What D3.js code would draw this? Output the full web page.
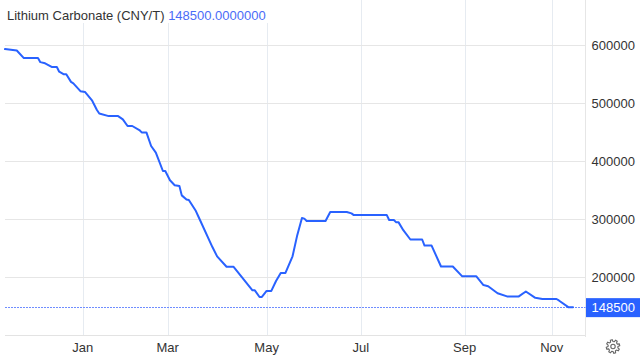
<!DOCTYPE html>
<html>
<head>
<meta charset="utf-8">
<script src="https://cdn.jsdelivr.net/npm/d3@7"></script>
<style>
  html, body { margin: 0; padding: 0; background: #fff; }
  svg { display: block; font-family: "Liberation Sans", Arial, sans-serif; }
</style>
</head>
<body>
<svg id="chart" width="640" height="357"></svg>
<script>
// ---- Data ----
const titleText = "Lithium Carbonate (CNY/T)";
const lastValueText = "148500.0000000";
const lastValue = 148500;

const dates = [
  "2022-11-16","2022-11-23","2022-11-28","2022-12-06","2022-12-07","2022-12-09","2022-12-14","2022-12-16",
  "2022-12-19","2022-12-21","2022-12-22","2022-12-26","2022-12-27","2022-12-30","2023-01-04","2023-01-09",
  "2023-01-11","2023-01-12","2023-01-18","2023-01-31","2023-02-02","2023-02-06","2023-02-08","2023-02-13",
  "2023-02-14","2023-02-16","2023-02-20","2023-02-22","2023-02-27","2023-02-28","2023-03-02","2023-03-06",
  "2023-03-08","2023-03-09","2023-03-13","2023-03-14","2023-03-17","2023-03-20","2023-03-28","2023-03-30",
  "2023-04-06","2023-04-11","2023-04-21","2023-04-24","2023-04-26","2023-04-27","2023-05-04","2023-05-08",
  "2023-05-10","2023-05-12","2023-05-16","2023-05-19","2023-05-23","2023-05-25","2023-05-26","2023-05-29",
  "2023-06-08","2023-06-12","2023-06-21","2023-06-27","2023-06-28","2023-07-18","2023-07-19","2023-07-21",
  "2023-07-24","2023-07-25","2023-07-27","2023-08-01","2023-08-08","2023-08-09","2023-08-14","2023-08-18",
  "2023-08-25","2023-08-31","2023-09-08","2023-09-13","2023-09-15","2023-09-21","2023-09-27","2023-10-12",
  "2023-10-17","2023-10-23","2023-10-26","2023-11-03","2023-11-06","2023-11-10","2023-11-14"
];
const prices = [
  593000,590500,577500,577500,570500,568500,562000,562000,
  554000,549500,549500,536500,534000,520500,519000,504000,
  488000,482000,477500,477500,472000,460500,460500,453500,
  449500,449500,426000,414500,383000,383000,367000,358500,
  357000,341000,334000,333000,314000,305000,252000,236000,
  218000,218000,177500,177500,166000,166000,176500,176500,
  193500,207500,207500,236000,272500,302000,301000,297000,
  297000,312500,312500,310000,307000,307000,298500,298500,
  294500,294500,281000,265000,265000,254500,254500,218500,
  218500,201500,201500,186500,184500,172500,167000,167000,
  175500,164500,162500,162500,160000,148500,148500
];

// trading calendar (weekdays minus exchange holidays)
const calStart = "2022-11-16";
const calEnd = "2023-11-14";
const holidays = [
  "2023-01-02","2023-01-23","2023-01-24","2023-01-25","2023-01-26","2023-01-27",
  "2023-04-05","2023-05-01","2023-05-02","2023-05-03","2023-06-22","2023-06-23",
  "2023-09-29","2023-10-02","2023-10-03","2023-10-04","2023-10-05","2023-10-06"
];
const monthTicks = ["2023-01-01","2023-03-01","2023-05-01","2023-07-01","2023-09-01","2023-11-01"];
const monthLabels = ["Jan","Mar","May","Jul","Sep","Nov"];
const yTicks = [200000, 300000, 400000, 500000, 600000];

// ---- Build trading-day index ----
const fmt = d3.utcFormat("%Y-%m-%d");
const parse = d3.utcParse("%Y-%m-%d");
const holidaySet = new Set(holidays);
const tradingDays = d3.utcDays(parse(calStart), d3.utcDay.offset(parse(calEnd), 1))
  .filter(d => d.getUTCDay() !== 0 && d.getUTCDay() !== 6 && !holidaySet.has(fmt(d)));
const tradingStr = tradingDays.map(fmt);
function dayIndex(s) {
  const i = d3.bisectLeft(tradingStr, s);
  return Math.min(i, tradingStr.length - 1);
}
const series = dates.map((d, i) => ({ i: dayIndex(d), v: prices[i] }));

// ---- Layout ----
const svg = d3.select("#chart");
const plotLeft = 5, plotRight = 585.5, plotTop = 0, plotBottom = 335;
const x = d3.scaleLinear().domain([0, tradingStr.length - 1]).range([5, 573]);
const y = d3.scaleLinear().domain([100000, 600000]).range([335.3, 45]);

svg.append("rect").attr("width", 640).attr("height", 357).attr("fill", "#fff");

// vertical grid lines (months)
svg.append("g").selectAll("line").data(monthTicks).join("line")
  .attr("x1", d => Math.round(x(dayIndex(d))) + 0.5)
  .attr("x2", d => Math.round(x(dayIndex(d))) + 0.5)
  .attr("y1", plotTop).attr("y2", plotBottom)
  .attr("stroke", "#e6ebf1").attr("stroke-width", 1);

// horizontal grid lines
svg.append("g").selectAll("line").data(yTicks).join("line")
  .attr("x1", plotLeft).attr("x2", plotRight)
  .attr("y1", d => Math.round(y(d)) + 0.5).attr("y2", d => Math.round(y(d)) + 0.5)
  .attr("stroke", "#e6e6e6").attr("stroke-width", 1);

// bottom axis line
svg.append("line")
  .attr("x1", plotLeft).attr("x2", plotRight)
  .attr("y1", Math.round(y(100000)) + 0.5).attr("y2", Math.round(y(100000)) + 0.5)
  .attr("stroke", "#e3e3e3");

// right border
svg.append("line")
  .attr("x1", plotRight).attr("x2", plotRight)
  .attr("y1", 0).attr("y2", 337)
  .attr("stroke", "#e6e6e6");

// last value dotted line
svg.append("line")
  .attr("x1", plotLeft).attr("x2", plotRight)
  .attr("y1", Math.round(y(lastValue)) + 0.5).attr("y2", Math.round(y(lastValue)) + 0.5)
  .attr("stroke", "#6f8dff").attr("stroke-width", 1).attr("stroke-dasharray", "2,1");

// title background
svg.append("rect").attr("x", 0).attr("y", 0).attr("width", 272).attr("height", 23).attr("fill", "#fff");

// title
const title = svg.append("text").attr("x", 7).attr("y", 19.5)
  .attr("font-size", 13).attr("fill", "#333");
title.append("tspan").text(titleText + " ");
title.append("tspan").attr("fill", "#4a6cf7").text(lastValueText);

// line
const line = d3.line().x(d => x(d.i)).y(d => y(d.v)).curve(d3.curveLinear);
svg.append("path").datum(series)
  .attr("d", line)
  .attr("fill", "none")
  .attr("stroke", "#2962ff")
  .attr("stroke-width", 2)
  .attr("stroke-linejoin", "round")
  .attr("stroke-linecap", "round");

// y labels
svg.append("g").selectAll("text").data(yTicks).join("text")
  .attr("x", 591.5).attr("y", d => y(d))
  .attr("dy", "0.35em")
  .attr("font-size", 13).attr("fill", "#333")
  .text(d => d3.format("d")(d));

// last value tag
const tagY = y(lastValue);
svg.append("rect").attr("x", 586).attr("y", tagY - 9).attr("width", 54).attr("height", 19)
  .attr("fill", "#2962ff");
svg.append("text").attr("x", 591.5).attr("y", tagY).attr("dy", "0.38em")
  .attr("font-size", 13).attr("fill", "#fff")
  .text(d3.format("d")(lastValue));

// x labels
svg.append("g").selectAll("text").data(monthTicks).join("text")
  .attr("x", d => x(dayIndex(d)))
  .attr("y", 351.5)
  .attr("text-anchor", "middle")
  .attr("font-size", 13).attr("fill", "#333")
  .text((d, i) => monthLabels[i]);

// gear icon
const gcx = 613, gcy = 346.5, teeth = 8, rOut = 6.8, rIn = 5.0;
const pts = [];
for (let k = 0; k < teeth; k++) {
  const a0 = (k / teeth) * 2 * Math.PI;
  const w = Math.PI / teeth;
  pts.push([a0 - w * 0.35, rOut], [a0 + w * 0.35, rOut], [a0 + w * 0.65, rIn], [a0 + w * 1.35, rIn]);
}
const gearPath = d3.lineRadial().angle(d => d[0]).radius(d => d[1]).curve(d3.curveLinearClosed);
svg.append("path").attr("d", gearPath(pts.map(p => [p[0] - Math.PI / teeth * 0.65, p[1]])))
  .attr("transform", `translate(${gcx},${gcy})`)
  .attr("fill", "none").attr("stroke", "#666").attr("stroke-width", 1.1);
svg.append("circle").attr("cx", gcx).attr("cy", gcy).attr("r", 2.2)
  .attr("fill", "none").attr("stroke", "#666").attr("stroke-width", 1.1);
</script>
</body>
</html>
